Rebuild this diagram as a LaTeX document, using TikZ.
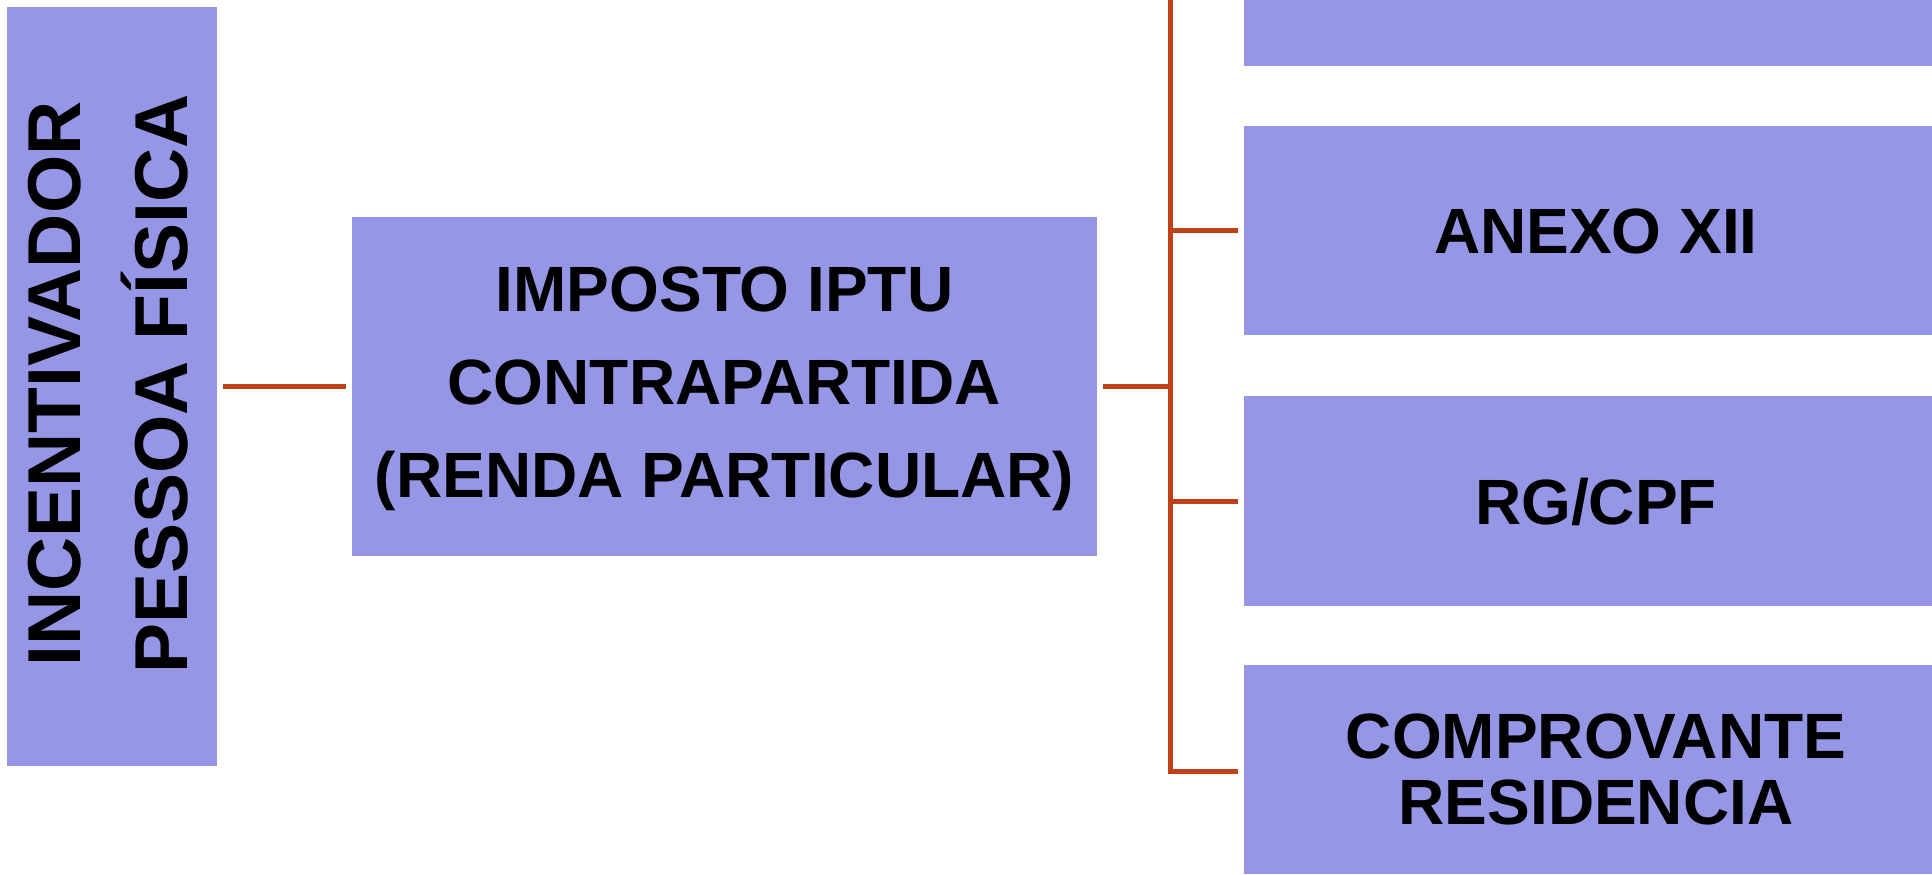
\documentclass[tikz,border=0pt]{standalone}
\usepackage{fontspec}
\setmainfont{Liberation Sans}
\definecolor{boxblue}{RGB}{150,150,230}
\definecolor{linered}{RGB}{192,64,24}
\begin{document}
\begin{tikzpicture}[x=0.5pt,y=-0.5pt,
  box/.style={fill=boxblue, draw=none, inner sep=0pt, outer sep=0pt},
  lbl/.style={font=\bfseries\fontsize{32}{46.4}\selectfont, align=center, inner sep=0pt},
  rlbl/.style={font=\bfseries\fontsize{32}{33}\selectfont, align=center, inner sep=0pt},
  conn/.style={draw=linered, line width=2.5pt}]
\useasboundingbox (0,0) rectangle (1932,874);
\clip (0,0) rectangle (1932,874);
% boxes
\node[box, minimum width=105pt, minimum height=379.5pt] (inc) at (112,386.5) {};
\node[rotate=90, font=\bfseries\fontsize{37.5}{53.5}\selectfont, align=center, inner sep=0pt] (inctxt) at (108,384) {INCENTIVADOR\\PESSOA FÍSICA};
\node[box, minimum width=372.5pt, minimum height=169.5pt] (mid) at (724.5,386.5) {};
\node[lbl] (midtxt) at (724.5,389) {IMPOSTO IPTU\\CONTRAPARTIDA\\(RENDA PARTICULAR)};
\node[box, minimum width=352pt, minimum height=104.5pt] (r0) at (1596,-39) {};
\node[box, minimum width=352pt, minimum height=104.5pt] (r1) at (1596,230.5) {};
\node[rlbl] (r1txt) at (1596,231.5) {ANEXO XII};
\node[box, minimum width=352pt, minimum height=105pt] (r2) at (1596,501) {};
\node[rlbl] (r2txt) at (1596,502) {RG/CPF};
\node[box, minimum width=352pt, minimum height=104.5pt] (r3) at (1596,769.5) {};
\node[rlbl] (r3txt) at (1596,769.5) {COMPROVANTE\\RESIDENCIA};
% trunk
\coordinate (ttop) at (1170,-39);
\coordinate (tbot) at (1170,771);
\coordinate (tmid) at (1170,386.5);
% connectors
\draw[conn, shorten <=3pt, shorten >=3pt] (inc.east) -- (mid.west);
\draw[conn, shorten <=3pt] (mid.east) -- (tmid);
\draw[conn, shorten >=3pt] (ttop) -- (tbot) -- (tbot -| r3.west);
\draw[conn, shorten >=3pt] (r0.west -| ttop) -- (r0.west);
\draw[conn, shorten >=3pt] (r1.west -| ttop) -- (r1.west);
\draw[conn, shorten >=3pt] (r2.west -| ttop) -- (r2.west);
\end{tikzpicture}
\end{document}
